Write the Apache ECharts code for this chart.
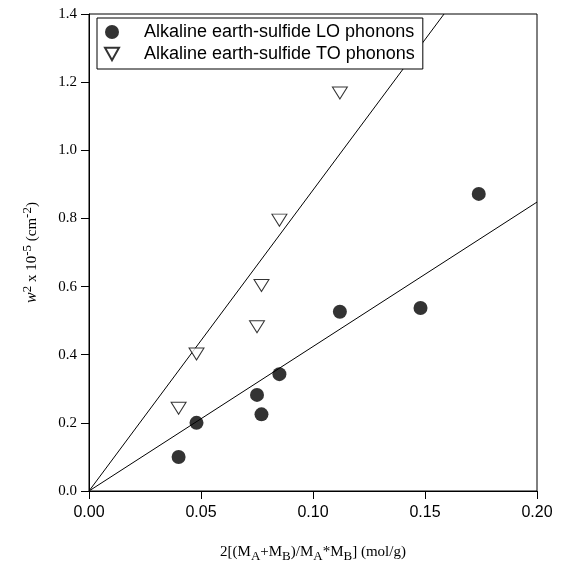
<!DOCTYPE html>
<html>
<head>
<meta charset="utf-8">
<script src="https://cdn.jsdelivr.net/npm/echarts@6/dist/echarts.min.js"></script>
<style>html,body{margin:0;padding:0;background:#fff}#chart{width:564px;height:568px}</style>
</head>
<body>
<div id="chart"></div>
<script>
var loX = [0.040, 0.048, 0.075, 0.077, 0.085, 0.112, 0.148, 0.174];
var loY = [0.100, 0.200, 0.282, 0.225, 0.343, 0.526, 0.537, 0.872];
var toX = [0.040, 0.048, 0.075, 0.077, 0.085, 0.112];
var toY = [0.243, 0.402, 0.482, 0.603, 0.795, 1.168];
// fitted lines through the origin (end points)
var loFit = [[0, 0], [0.20, 0.848]];
var toFit = [[0, 0], [0.1585, 1.40]];
var xTicks = ['0.00', '0.05', '0.10', '0.15', '0.20'];

function pairs(xs, ys) {
    return xs.map(function (x, i) { return [x, ys[i]]; });
}

var tri = 'path://M0,0 L10,0 L5,9 Z';

var myChart = echarts.init(document.getElementById('chart'));
var option = {
    animation: false,
    grid: {left: 89, right: 27, top: 14, bottom: 75, show: true, borderColor: '#000', borderWidth: 1},
    legend: {
        left: 97, top: 18,
        orient: 'vertical',
        backgroundColor: '#fff',
        borderColor: '#000', borderWidth: 1,
        padding: [4, 8, 5, 7],
        itemGap: 2,
        itemWidth: 14, itemHeight: 14,
        textStyle: {fontFamily: 'Liberation Sans', fontSize: 18, color: '#000', padding: [0, 0, 0, 20], lineHeight: 20},
        data: [
            {name: 'Alkaline earth-sulfide LO phonons', icon: 'circle'},
            {name: 'Alkaline earth-sulfide TO phonons', icon: tri}
        ]
    },
    xAxis: {
        type: 'value', min: 0, max: 0.2, interval: 0.05,
        axisLine: {lineStyle: {color: '#000', width: 1}},
        axisTick: {length: 8, lineStyle: {color: '#000'}},
        splitLine: {show: false},
        axisLabel: {
            color: '#000', fontFamily: 'Liberation Sans', fontSize: 16, margin: 14,
            formatter: function (v) { return xTicks[Math.round(v / 0.05)]; }
        },
        name: '2[(M{sub|A}+M{sub|B})/M{sub|A}*M{sub|B}] (mol/g)',
        nameLocation: 'middle', nameGap: 50,
        nameTextStyle: {
            color: '#000', fontFamily: 'Liberation Serif', fontSize: 15,
            rich: {sub: {fontFamily: 'Liberation Serif', fontSize: 13, color: '#000', padding: [9, 0, 0, 0]}}
        }
    },
    yAxis: {
        type: 'value', min: 0, max: 1.4, interval: 0.2,
        axisLine: {lineStyle: {color: '#000', width: 1}},
        axisTick: {length: 8, lineStyle: {color: '#000'}},
        splitLine: {show: false},
        axisLabel: {
            color: '#000', fontFamily: 'Liberation Serif', fontSize: 15, margin: 12,
            formatter: function (v) { return v.toFixed(1); }
        },
        name: '{i|w}{sup|2} x 10{sup|-5} (cm{sup|-2})',
        nameLocation: 'middle', nameGap: 46,
        nameTextStyle: {
            color: '#000', fontFamily: 'Liberation Serif', fontSize: 15,
            rich: {
                i: {fontFamily: 'Liberation Serif', fontStyle: 'italic', fontSize: 16, color: '#000'},
                sup: {fontFamily: 'Liberation Serif', fontSize: 13, color: '#000', padding: [0, 0, 9, 0]}
            }
        }
    },
    series: [
        {
            name: 'LO fit', type: 'line', data: loFit, symbol: 'none',
            lineStyle: {color: '#000', width: 1}, silent: true, z: 1
        },
        {
            name: 'TO fit', type: 'line', data: toFit, symbol: 'none',
            lineStyle: {color: '#000', width: 1}, silent: true, z: 1
        },
        {
            name: 'Alkaline earth-sulfide LO phonons', type: 'scatter',
            data: pairs(loX, loY), symbol: 'circle', symbolSize: 14,
            itemStyle: {color: '#000'}, z: 3
        },
        {
            name: 'Alkaline earth-sulfide TO phonons', type: 'scatter',
            data: pairs(toX, toY), symbol: tri, symbolSize: [15, 12],
            itemStyle: {color: '#fff', borderColor: '#000', borderWidth: 1}, z: 3
        }
    ]
};
myChart.setOption(option);
</script>
</body>
</html>
